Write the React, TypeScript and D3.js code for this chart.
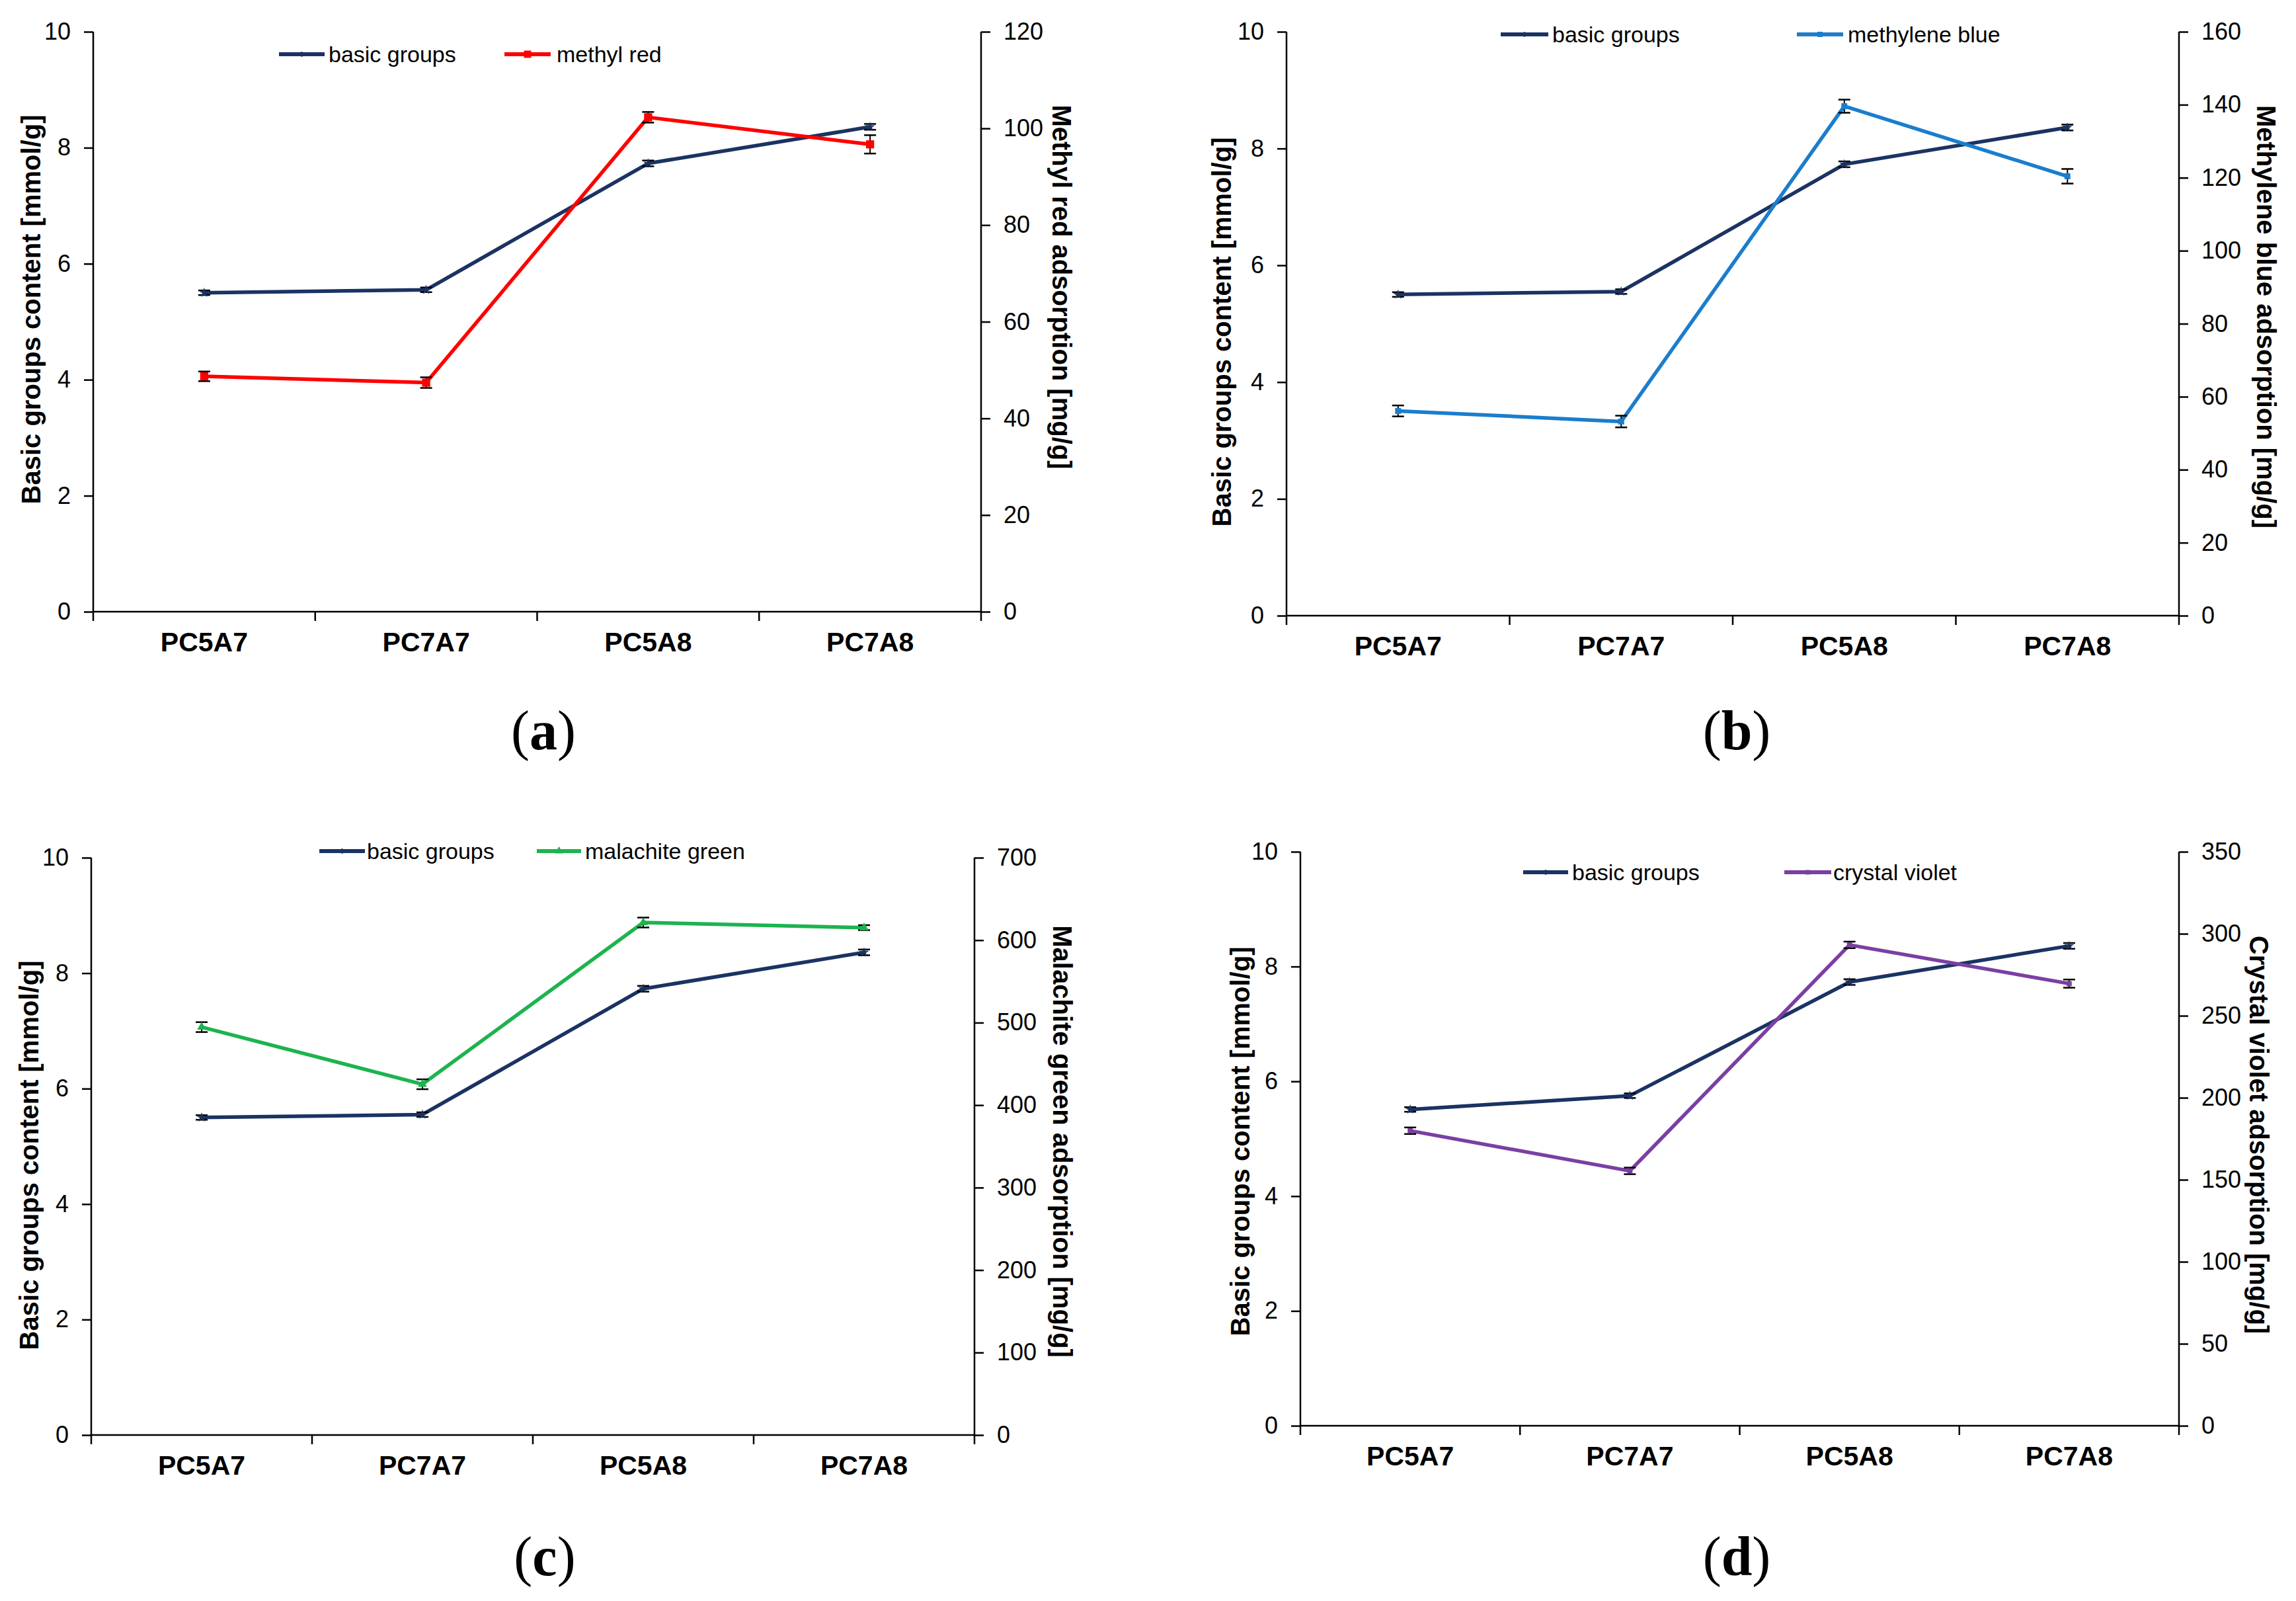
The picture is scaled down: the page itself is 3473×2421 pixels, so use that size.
import { useRef, useEffect } from "react";
import * as d3 from "d3";

// categories on every x axis
const categories = ["PC5A7", "PC7A7", "PC5A8", "PC7A8"];

// basic groups content [mmol/g]
const basicGroups = [5.5, 5.55, 7.73, 8.36];
const basicGroupsD = [5.51, 5.75, 7.73, 8.36];
const basicGroupsErr = [0.04, 0.04, 0.05, 0.05];

// dye adsorption [mg/g]
const methylRed = [48.7, 47.4, 102.3, 96.7];
const methylRedErr = [1.0, 1.1, 1.1, 1.9];
const methyleneBlue = [56.1, 53.2, 139.6, 120.4];
const methyleneBlueErr = [1.5, 1.6, 1.8, 2.0];
const malachiteGreen = [494.6, 425.3, 621.4, 615.2];
const malachiteGreenErr = [6, 6, 6, 3];
const crystalViolet = [179.9, 155.4, 293.2, 269.6];
const crystalVioletErr = [2, 2, 2, 2.5];

// tick labels
const leftTicks = [0, 2, 4, 6, 8, 10];
const methylRedTicks = [0, 20, 40, 60, 80, 100, 120];
const methyleneBlueTicks = [0, 20, 40, 60, 80, 100, 120, 140, 160];
const malachiteGreenTicks = [0, 100, 200, 300, 400, 500, 600, 700];
const crystalVioletTicks = [0, 50, 100, 150, 200, 250, 300, 350];

const NAVY = "#1b3362";
const SANS = "'Liberation Sans', Arial, sans-serif";

const panels = [
  {
    letter: "a", left: 141, right: 1484, top: 48, bottom: 925,
    basic: basicGroups, dye: methylRed, dyeErr: methylRedErr, dyeTicks: methylRedTicks,
    dyeName: "methyl red", dyeColor: "#ff0000", marker: d3.symbolSquare, markerSize: 150,
    leftTitle: [47, 468], rightTitle: [1606, 434],
    rightLabel: "Methyl red adsorption [mg/g]",
    legendY: 82, leg1: [422, 491, 497], leg2: [763, 833, 842],
    caption: [822, 1133],
  },
  {
    letter: "b", left: 1946, right: 3296, top: 48, bottom: 931,
    basic: basicGroups, dye: methyleneBlue, dyeErr: methyleneBlueErr, dyeTicks: methyleneBlueTicks,
    dyeName: "methylene blue", dyeColor: "#1b7dcc", marker: d3.symbolSquare, markerSize: 80,
    leftTitle: [1848, 502], rightTitle: [3428, 479],
    rightLabel: "Methylene blue adsorption [mg/g]",
    legendY: 52, leg1: [2270, 2342, 2348], leg2: [2718, 2788, 2795],
    caption: [2627, 1133],
  },
  {
    letter: "c", left: 138, right: 1474, top: 1297, bottom: 2170,
    basic: basicGroups, dye: malachiteGreen, dyeErr: malachiteGreenErr, dyeTicks: malachiteGreenTicks,
    dyeName: "malachite green", dyeColor: "#1db34f", marker: d3.symbolTriangle, markerSize: 80,
    leftTitle: [44, 1747], rightTitle: [1607, 1726],
    rightLabel: "Malachite green adsorption [mg/g]",
    legendY: 1287, leg1: [483, 552, 555], leg2: [812, 879, 885],
    caption: [824, 2382],
  },
  {
    letter: "d", left: 1967, right: 3296, top: 1288, bottom: 2156,
    basic: basicGroupsD, dye: crystalViolet, dyeErr: crystalVioletErr, dyeTicks: crystalVioletTicks,
    dyeName: "crystal violet", dyeColor: "#7b3fa3", marker: d3.symbolSquare, markerSize: 60,
    leftTitle: [1876, 1726], rightTitle: [3417, 1716],
    rightLabel: "Crystal violet adsorption [mg/g]",
    legendY: 1319, leg1: [2304, 2372, 2378], leg2: [2699, 2770, 2773],
    caption: [2627, 2382],
  },
];

function drawPanel(svg: any, p: any) {
  const g = svg.append("g");
  const x = d3.scaleBand().domain(categories).range([p.left, p.right]).padding(0);
  const cx = (c: string) => (x(c) as number) + x.bandwidth() / 2;
  const yL = d3.scaleLinear().domain([0, 10]).range([p.bottom, p.top]);
  const yR = d3.scaleLinear().domain([0, p.dyeTicks[p.dyeTicks.length - 1]]).range([p.bottom, p.top]);

  // left axis
  const leftAxis = g.append("g").attr("transform", `translate(${p.left},0)`)
    .call(d3.axisLeft(yL).tickValues(leftTicks).tickSize(14).tickPadding(20));
  // right axis
  const rightAxis = g.append("g").attr("transform", `translate(${p.right},0)`)
    .call(d3.axisRight(yR).tickValues(p.dyeTicks).tickSize(14).tickPadding(20));
  [leftAxis, rightAxis].forEach((a) => {
    a.select(".domain").attr("stroke", "#000").attr("stroke-width", 2.5)
      .attr("d", `M0,${p.top}V${p.bottom}`);
    a.selectAll(".tick line").attr("stroke", "#000").attr("stroke-width", 2.5);
    a.selectAll(".tick text").attr("font-family", SANS).attr("font-size", 36).attr("fill", "#000");
  });

  // bottom axis with ticks at band boundaries
  const bottom = g.append("g");
  bottom.append("line").attr("x1", p.left).attr("x2", p.right)
    .attr("y1", p.bottom).attr("y2", p.bottom).attr("stroke", "#000").attr("stroke-width", 2.5);
  const bounds = [...categories.map((c) => x(c) as number), p.right];
  bottom.selectAll("line.tk").data(bounds).join("line").attr("class", "tk")
    .attr("x1", (d: number) => d).attr("x2", (d: number) => d)
    .attr("y1", p.bottom).attr("y2", p.bottom + 14)
    .attr("stroke", "#000").attr("stroke-width", 2.5);
  bottom.selectAll("text").data(categories).join("text")
    .attr("x", (d: string) => cx(d)).attr("y", p.bottom + 60)
    .attr("text-anchor", "middle").attr("font-family", SANS)
    .attr("font-weight", "bold").attr("font-size", 41).text((d: string) => d);

  // axis titles
  g.append("text").attr("transform", `translate(${p.leftTitle[0]},${p.leftTitle[1]}) rotate(-90)`)
    .attr("text-anchor", "middle").attr("dominant-baseline", "central")
    .attr("font-family", SANS).attr("font-weight", "bold").attr("font-size", 40)
    .text("Basic groups content [mmol/g]");
  g.append("text").attr("transform", `translate(${p.rightTitle[0]},${p.rightTitle[1]}) rotate(90)`)
    .attr("text-anchor", "middle").attr("dominant-baseline", "central")
    .attr("font-family", SANS).attr("font-weight", "bold").attr("font-size", 40)
    .text(p.rightLabel);

  const series = [
    { vals: p.basic, err: basicGroupsErr, y: yL, color: NAVY, sym: d3.symbolStar, size: 70 },
    { vals: p.dye, err: p.dyeErr, y: yR, color: p.dyeColor, sym: p.marker, size: p.markerSize },
  ];

  series.forEach((s) => {
    const pts = categories.map((c, i) => [cx(c), s.y(s.vals[i])] as [number, number]);
    g.append("path").attr("d", d3.line()(pts)).attr("fill", "none")
      .attr("stroke", s.color).attr("stroke-width", 5.5).attr("stroke-linejoin", "round");
    categories.forEach((c, i) => {
      const xx = cx(c);
      const y1 = s.y(s.vals[i] + s.err[i]);
      const y2 = s.y(s.vals[i] - s.err[i]);
      g.append("line").attr("x1", xx).attr("x2", xx).attr("y1", y1).attr("y2", y2)
        .attr("stroke", "#000").attr("stroke-width", 2);
      [y1, y2].forEach((yy) =>
        g.append("line").attr("x1", xx - 9).attr("x2", xx + 9).attr("y1", yy).attr("y2", yy)
          .attr("stroke", "#000").attr("stroke-width", 2.5));
      g.append("path").attr("d", d3.symbol(s.sym, s.size)())
        .attr("transform", `translate(${xx},${s.y(s.vals[i])})`).attr("fill", s.color);
    });
  });

  // legend
  const legend = [
    { name: "basic groups", color: NAVY, pos: p.leg1, sym: d3.symbolCross, size: 30 },
    { name: p.dyeName, color: p.dyeColor, pos: p.leg2, sym: p.marker, size: p.markerSize * 0.8 },
  ];
  legend.forEach((l) => {
    g.append("line").attr("x1", l.pos[0]).attr("x2", l.pos[1])
      .attr("y1", p.legendY).attr("y2", p.legendY)
      .attr("stroke", l.color).attr("stroke-width", 6);
    g.append("path").attr("d", d3.symbol(l.sym, l.size)())
      .attr("transform", `translate(${(l.pos[0] + l.pos[1]) / 2},${p.legendY})`).attr("fill", l.color);
    g.append("text").attr("x", l.pos[2]).attr("y", p.legendY)
      .attr("dominant-baseline", "central").attr("font-family", SANS)
      .attr("font-size", 34).attr("fill", "#000").text(l.name);
  });

  // caption
  const cap = g.append("text").attr("x", p.caption[0]).attr("y", p.caption[1])
    .attr("text-anchor", "middle").attr("font-family", "'Liberation Serif', 'Times New Roman', serif")
    .attr("font-size", 84).attr("fill", "#000");
  cap.append("tspan").text("(");
  cap.append("tspan").attr("font-weight", "bold").text(p.letter);
  cap.append("tspan").text(")");
}

export default function App() {
  const svgRef = useRef<SVGSVGElement>(null);

  useEffect(() => {
    const svg = d3.select(svgRef.current);
    svg.selectAll("*").remove();
    svg.append("rect").attr("width", 3473).attr("height", 2421).attr("fill", "#fff");
    panels.forEach((p) => drawPanel(svg, p));
  }, []);

  return (
    <svg
      ref={svgRef}
      width={3473}
      height={2421}
      style={{ position: "absolute", left: 0, top: 0, display: "block" }}
    />
  );
}
